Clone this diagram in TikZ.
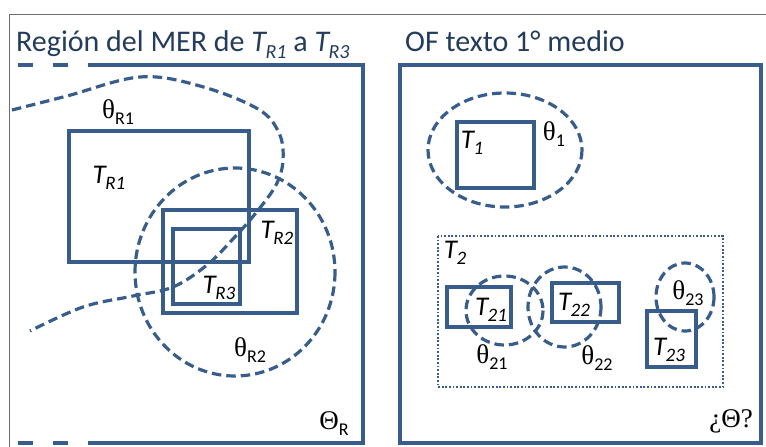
\documentclass[tikz,border=0pt]{standalone}
\usepackage{fontspec}
\setmainfont{Carlito}
\newfontfamily\thfont{Liberation Serif}
\definecolor{lineblue}{RGB}{56,93,138}
\definecolor{titleblue}{RGB}{36,60,92}
\definecolor{framegray}{RGB}{110,110,110}
\newcommand\Tsub[1]{{\fontsize{27}{27}\selectfont\itshape T\kern-0.5pt\raisebox{-6pt}{\fontsize{19}{19}\selectfont #1}}}
\newcommand\Ttit[1]{{\itshape T\kern-0.5pt\raisebox{-7pt}{\fontsize{20}{20}\selectfont #1}}}
\newcommand\thsub[1]{{\fontsize{27}{27}\selectfont\thfont θ}\raisebox{-6pt}{\fontsize{18}{18}\selectfont #1}}
\begin{document}
\begin{tikzpicture}[x=1pt,y=-1pt,
  solidline/.style={draw=lineblue,line width=3.2pt},
  dashline/.style={draw=lineblue,line width=3.2pt,dash pattern=on 9.5pt off 5pt},
  dotline/.style={draw=lineblue,line width=2pt,dash pattern=on 1.8pt off 1.8pt},
  lbl/.style={inner sep=0pt,text=black},
  title/.style={inner sep=0pt,anchor=base west,text=titleblue,font=\fontsize{30}{30}\selectfont}]
\useasboundingbox (0,0) rectangle (766,447);
% outer frame
\draw[framegray,line width=1pt] (766,14) -- (9.5,14) -- (9.5,447);
% titles
\node[title] (t1) at (16,51) {Región del MER de \Ttit{R1} a \Ttit{R3}};
\node[title] (t2) at (405,51) {OF texto 1° medio};
% left panel box
\draw[solidline] (88,65) -- (363,65) -- (363,443) -- (88,443);
\draw[solidline] (18,65) -- (33,65) (53,65) -- (68,65);
\draw[solidline] (18,443) -- (33,443) (53,443) -- (68,443);
% left rectangles
\draw[solidline] (69,131) rectangle (249,262);
\draw[solidline] (163,210) rectangle (297,313);
\draw[solidline] (173,229) rectangle (240,304);
% theta R2 circle
\draw[dashline] (235,272) ellipse [x radius=100, y radius=104];
% theta R1 boundary
\draw[dashline] plot[smooth,tension=0.6] coordinates {(12,110) (67,96) (140,77) (200,86) (258,109) (279,133) (283,160) (276,185) (255,214) (232,240) (207,265) (173,287) (133,296) (83,307) (30,331)};
% left labels
\node[lbl] (lR1) at (118,112) {\thsub{R1}};
\node[lbl] (TR1) at (109,178) {\Tsub{R1}};
\node[lbl] (TR2) at (277,233) {\Tsub{R2}};
\node[lbl] (TR3) at (219,288) {\Tsub{R3}};
\node[lbl] (lR2) at (250,350) {\thsub{R2}};
\node[lbl] (ThR) at (334,424) {{\fontsize{27}{27}\selectfont\thfont Θ}\raisebox{-6pt}{\fontsize{18}{18}\selectfont R}};
% right panel box
\draw[solidline] (400,65) rectangle (761,443);
\draw[solidline] (457,122) rectangle (534,188);
\draw[dashline] (505,150) ellipse [x radius=77, y radius=57];
\node[lbl] (T1) at (472,143) {\Tsub{1}};
\node[lbl] (th1) at (554,134) {\thsub{1}};
% T2 group
\draw[dotline] (438,236) rectangle (723,387);
\node[lbl] (T2) at (455,253) {\Tsub{2}};
\draw[solidline] (447,287) rectangle (511,327);
\draw[solidline] (552,283) rectangle (619,322);
\draw[solidline] (647,311) rectangle (696,367);
\draw[dashline] (504.5,310.5) ellipse [x radius=38.5, y radius=34.5];
\draw[dashline] (564.5,307) ellipse [x radius=36.5, y radius=40];
\draw[dashline] (685,297) ellipse [x radius=29, y radius=34];
\node[lbl] (T21) at (491,310) {\Tsub{21}};
\node[lbl] (T22) at (574,305) {\Tsub{22}};
\node[lbl] (T23) at (669,350) {\Tsub{23}};
\node[lbl] (th21) at (492,357) {\thsub{21}};
\node[lbl] (th22) at (597,358) {\thsub{22}};
\node[lbl] (th23) at (688,293) {\thsub{23}};
\node[lbl] (Th) at (731,421) {\fontsize{27}{27}\selectfont\thfont ¿Θ?};
\end{tikzpicture}
\end{document}
